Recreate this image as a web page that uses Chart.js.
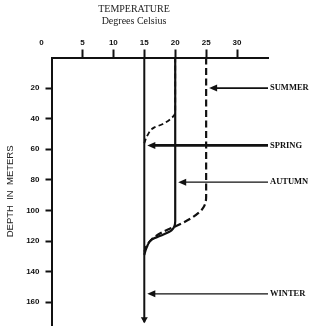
<!DOCTYPE html>
<html>
<head>
<meta charset="utf-8">
<script src="https://cdn.jsdelivr.net/npm/chart.js@4/dist/chart.umd.min.js"></script>
<style>
  html, body { margin: 0; padding: 0; background: #fff; }
  canvas { display: block; }
</style>
</head>
<body>
<canvas id="chart" width="324" height="336"></canvas>
<script>
// temperature (deg C) against depth (m)
var winterTemp = [15, 15];
var winterDepth = [0, 173];
var autumnTemp = [20, 20, 19.4, 17.6, 16.2, 15.4, 15];
var autumnDepth = [0, 107, 113, 116.5, 119, 124, 129];
var springTemp = [20, 20, 19.3, 18, 16.5, 15.5, 15];
var springDepth = [0, 36, 40, 43.5, 46, 51, 56];
var summerTemp = [25, 25, 24.4, 22.6, 20.5, 18, 16.3, 15.4, 15];
var summerDepth = [0, 91, 99, 105, 109.5, 114, 118.5, 123, 127];

// arrow labels on the right
var noteLabels = ['SUMMER', 'SPRING', 'AUTUMN', 'WINTER'];
var noteDepths = [20, 57.5, 81.5, 154.5];
var noteTemps = [25, 15, 20, 15];
var noteWidths = [1.6, 2.8, 1.3, 1.3];

var ink = '#111';

function pairs(xs, ys) {
    return xs.map(function (v, i) { return {x: v, y: ys[i]}; });
}

function hideEnds(value) {
    return value === 0 || value === 35 || value === 175;
}

var notes = {
    id: 'notes',
    afterDraw: function (chart) {
        var ctx = chart.ctx;
        var x = chart.scales.x;
        var y = chart.scales.y;
        var area = chart.chartArea;
        ctx.save();
        ctx.fillStyle = ink;
        ctx.strokeStyle = ink;
        noteLabels.forEach(function (label, i) {
            var py = y.getPixelForValue(noteDepths[i]);
            var tip = x.getPixelForValue(noteTemps[i]) + 3;
            ctx.lineWidth = noteWidths[i];
            ctx.beginPath();
            ctx.moveTo(tip + 6, py);
            ctx.lineTo(area.right, py);
            ctx.stroke();
            ctx.beginPath();
            ctx.moveTo(tip, py);
            ctx.lineTo(tip + 8, py - 3.5);
            ctx.lineTo(tip + 8, py + 3.5);
            ctx.closePath();
            ctx.fill();
            ctx.font = 'bold 8.5px "Liberation Serif"';
            ctx.textAlign = 'left';
            ctx.textBaseline = 'middle';
            ctx.fillText(label, area.right + 2, py);
        });
        // arrowhead at the bottom of the winter profile
        var wx = x.getPixelForValue(winterTemp[winterTemp.length - 1]);
        var wy = y.getPixelForValue(winterDepth[winterDepth.length - 1]);
        ctx.beginPath();
        ctx.moveTo(wx - 3.5, wy - 5);
        ctx.lineTo(wx + 3.5, wy - 5);
        ctx.lineTo(wx, wy + 1);
        ctx.closePath();
        ctx.fill();
        // the "0" tick label sits left of the corner
        ctx.font = 'bold 8px "Liberation Sans"';
        ctx.textAlign = 'center';
        ctx.fillText('0', x.getPixelForValue(0) - 10, area.top - 14.5);
        ctx.restore();
    }
};

var config = {
    type: 'line',
    data: {
        datasets: [{
            label: 'Winter',
            data: pairs(winterTemp, winterDepth),
            borderColor: ink,
            borderWidth: 2
        }, {
            label: 'Autumn',
            data: pairs(autumnTemp, autumnDepth),
            borderColor: ink,
            borderWidth: 2.2
        }, {
            label: 'Spring',
            data: pairs(springTemp, springDepth),
            borderColor: ink,
            borderWidth: 1.8,
            borderDash: [5, 3]
        }, {
            label: 'Summer',
            data: pairs(summerTemp, summerDepth),
            borderColor: ink,
            borderWidth: 2.2,
            borderDash: [7, 3.5]
        }]
    },
    options: {
        responsive: false,
        animation: false,
        devicePixelRatio: 1,
        indexAxis: 'y',
        elements: {
            point: { radius: 0 },
            line: { cubicInterpolationMode: 'monotone', fill: false }
        },
        layout: { padding: { left: 0, right: 56, bottom: 8.5, top: 0 } },
        plugins: {
            legend: { display: false },
            tooltip: { enabled: false },
            title: {
                display: true,
                text: ['TEMPERATURE', 'Degrees Celsius'],
                color: '#222',
                font: { family: 'Liberation Serif', size: 10, weight: 'normal', lineHeight: 1.2 },
                padding: { top: 3, bottom: 0 }
            }
        },
        scales: {
            x: {
                type: 'linear',
                position: 'top',
                min: 0,
                max: 35,
                afterFit: function (scale) { scale.height = 30.5; },
                ticks: {
                    stepSize: 5,
                    color: ink,
                    padding: 2,
                    font: { family: 'Liberation Sans', size: 8, weight: 'bold' },
                    callback: function (v) { return hideEnds(v) ? '' : v; }
                },
                grid: {
                    drawOnChartArea: false,
                    tickLength: 8,
                    tickWidth: 2,
                    tickColor: function (c) { return c.tick && hideEnds(c.tick.value) ? 'rgba(0,0,0,0)' : ink; }
                },
                border: { color: ink, width: 2 }
            },
            y: {
                type: 'linear',
                reverse: true,
                min: 0,
                max: 175,
                afterFit: function (scale) { scale.width = 51.5; },
                title: {
                    display: true,
                    text: 'DEPTH  IN  METERS',
                    color: '#222',
                    font: { family: 'Liberation Sans', size: 9.5 },
                    padding: { top: 5, bottom: 0 }
                },
                ticks: {
                    stepSize: 20,
                    color: ink,
                    padding: 6,
                    font: { family: 'Liberation Sans', size: 8, weight: 'bold' },
                    callback: function (v) { return (v === 0 || v % 20 !== 0) ? '' : v; }
                },
                grid: {
                    drawOnChartArea: false,
                    tickLength: 6,
                    tickWidth: 2,
                    tickColor: function (c) { return c.tick && hideEnds(c.tick.value) ? 'rgba(0,0,0,0)' : ink; }
                },
                border: { color: ink, width: 2 }
            }
        }
    },
    plugins: [notes]
};

var ctx = document.getElementById('chart');
window.depthChart = new Chart(ctx, config);
</script>
</body>
</html>
